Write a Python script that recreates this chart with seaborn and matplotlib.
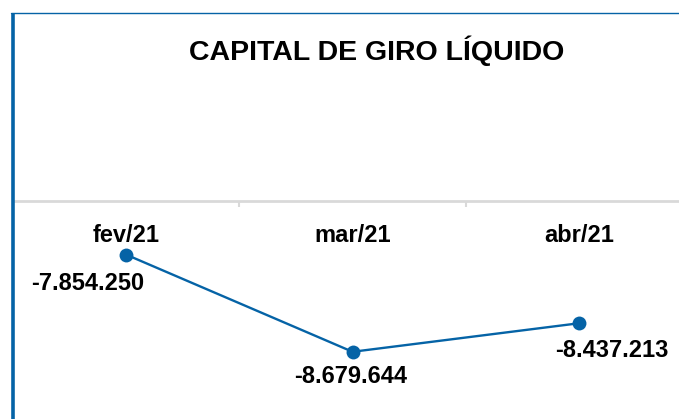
import matplotlib
matplotlib.use('Agg')
import matplotlib.pyplot as plt
from matplotlib.lines import Line2D
import seaborn as sns
import pandas as pd

# Data
months = ["fev/21", "mar/21", "abr/21"]
values = [-7854250, -8679644, -8437213]
labels = ["-7.854.250", "-8.679.644", "-8.437.213"]

BLUE = "#0563A6"

sns.set_theme(style="white")
plt.rcParams['font.family'] = ['Liberation Sans', 'DejaVu Sans']
plt.rcParams['text.color'] = 'black'

df = pd.DataFrame({"mes": months, "valor": values, "pos": range(len(months))})

fig = plt.figure(figsize=(6.79, 4.19), dpi=100)
ax = fig.add_axes([12.5 / 679, 0.0, 1 - 12.5 / 679, 218 / 419])

sns.lineplot(data=df, x="pos", y="valor", ax=ax, color=BLUE, linewidth=1.7,
             marker="o", markersize=10, markeredgewidth=0, sort=False)

ax.set_xlim(-0.5, 2.44)
ax.set_ylim(-9.25e6, -7.4e6)

# axis line on top, category labels beneath it
for side in ["left", "right", "bottom"]:
    ax.spines[side].set_visible(False)
ax.spines["top"].set_color("#D9D9D9")
ax.spines["top"].set_linewidth(2)
ax.xaxis.tick_top()
ax.set_xticks(df["pos"])
ax.set_xticklabels(months, fontsize=17, fontweight="bold")
ax.tick_params(axis="x", which="major", length=0, pad=-33, labelcolor="black")
ax.set_xticks([0.5, 1.5], minor=True)
ax.tick_params(axis="x", which="minor", length=4.5, width=1.5, direction="in",
               color="#D9D9D9", top=True, bottom=False)
ax.set_yticks([])
ax.set_xlabel("")
ax.set_ylabel("")

# data labels
offsets = [(-27.5, -20.5), (-1.5, -17.5), (23.5, -19.5)]
for x, v, lab, off in zip(df["pos"], values, labels, offsets):
    ax.annotate(lab, (x, v), xytext=off, textcoords="offset points",
                ha="center", va="center", fontsize=17, fontweight="bold",
                color="black")

fig.text(377 / 679, 1 - 51 / 419, "CAPITAL DE GIRO LÍQUIDO", ha="center",
         va="center", fontsize=20.5, fontweight="bold", color="black")

# chart frame (left and top border)
fig.add_artist(Line2D([12.5 / 679, 12.5 / 679], [0, 1 - 13.5 / 419],
                      transform=fig.transFigure, color=BLUE, linewidth=2.6,
                      solid_capstyle="butt"))
fig.add_artist(Line2D([11 / 679, 1], [1 - 13.5 / 419, 1 - 13.5 / 419],
                      transform=fig.transFigure, color=BLUE, linewidth=1))

fig.savefig("out.png", dpi=100)
